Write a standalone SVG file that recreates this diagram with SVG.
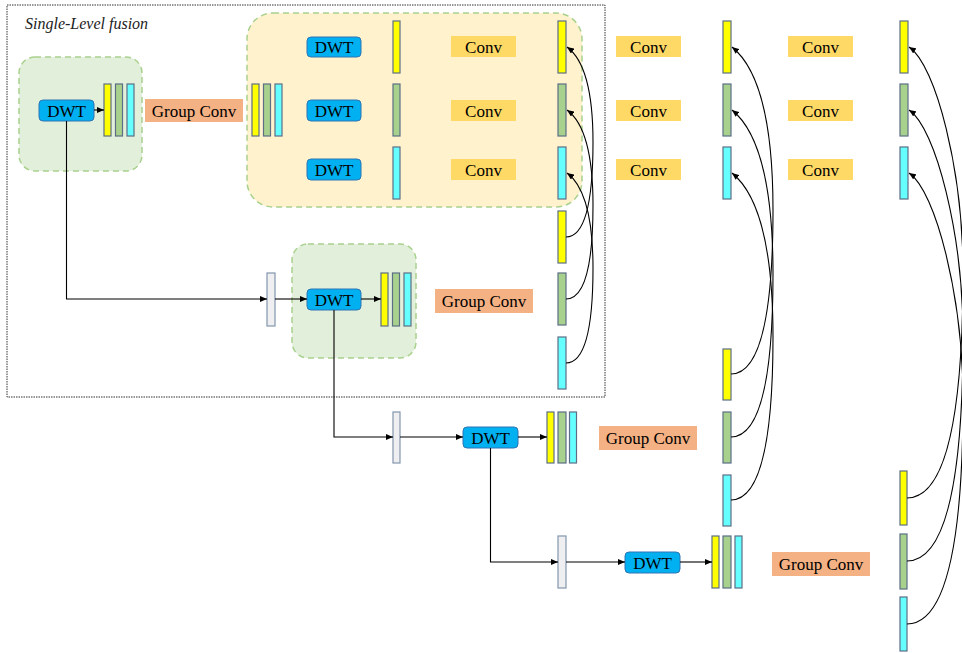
<svg xmlns="http://www.w3.org/2000/svg" width="962" height="653" viewBox="0 0 962 653">
<defs>
<marker id="ah" markerUnits="userSpaceOnUse" markerWidth="7" markerHeight="6" refX="7" refY="3" orient="auto"><path d="M0,0 L7,3 L0,6 z" fill="#000"/></marker>
<style>
.t{font-family:"Liberation Serif","Times New Roman",serif;font-size:17px;fill:#000;text-anchor:middle}
.it{font-family:"Liberation Serif","Times New Roman",serif;font-size:16px;font-style:italic;fill:#222}
.dwt{fill:#00B0F0;stroke:#2E75B6;stroke-width:1}
.conv{fill:#FFD966}
.gc{fill:#F4B183}
.y{fill:#FFFF00;stroke:#5C6E86;stroke-width:1.2}
.g{fill:#A9D18E;stroke:#5C6E86;stroke-width:1.2}
.c{fill:#66FFFF;stroke:#5C6E86;stroke-width:1.2}
.gr{fill:#EFEFF1;stroke:#8496AE;stroke-width:1.2}
.gbox{fill:#E2EFDA;stroke:#A9D18E;stroke-width:1.5;stroke-dasharray:6 4}
.obox{fill:#FFF2CC;stroke:#A9D18E;stroke-width:1.5;stroke-dasharray:6 4}
.ln{fill:none;stroke:#000;stroke-width:1.1}
</style>
</defs>
<g id="frame">
<rect x="7" y="5" width="598" height="392" fill="none" stroke="#333" stroke-width="1" stroke-dasharray="1.5 1"/>
<text class="it" x="25" y="29">Single-Level fusion</text>
</g>
<g id="level1-box"><rect class="gbox" x="19" y="57" width="123" height="114" rx="16"/></g>
<g id="fusion-box"><rect class="obox" x="247" y="13" width="335" height="194" rx="26"/></g>
<g id="level2-box"><rect class="gbox" x="292" y="244" width="124" height="114" rx="16"/></g>

<g id="dwt1"><rect class="dwt" x="39" y="100" width="55" height="21" rx="4"/><text class="t" x="66.5" y="116.5">DWT</text></g>
<g id="bars1"><rect class="y" x="104" y="84" width="7" height="52"/><rect class="g" x="115.5" y="84" width="7" height="52"/><rect class="c" x="127" y="84" width="7" height="52"/></g>
<g id="gconv1"><rect class="gc" x="145" y="99" width="98" height="23"/><text class="t" x="194" y="116.5">Group Conv</text></g>
<g id="bars1b"><rect class="y" x="252" y="84" width="7" height="52"/><rect class="g" x="263.5" y="84" width="7" height="52"/><rect class="c" x="275" y="84" width="7" height="52"/></g>

<g id="dwt-a"><rect class="dwt" x="307" y="37" width="54" height="20" rx="4"/><text class="t" x="334" y="53">DWT</text></g>
<g id="dwt-b"><rect class="dwt" x="307" y="100" width="54" height="21" rx="4"/><text class="t" x="334" y="116.5">DWT</text></g>
<g id="dwt-c"><rect class="dwt" x="307" y="159" width="54" height="21" rx="4"/><text class="t" x="334" y="175.5">DWT</text></g>
<g id="mid-bars"><rect class="y" x="393" y="21" width="7" height="52"/><rect class="g" x="393" y="84" width="7" height="52"/><rect class="c" x="393" y="147" width="7" height="52"/></g>
<g id="conv1"><rect class="conv" x="451" y="36" width="65" height="21"/><text class="t" x="483.5" y="52.5">Conv</text></g>
<g id="conv2"><rect class="conv" x="451" y="100" width="65" height="21"/><text class="t" x="483.5" y="116.5">Conv</text></g>
<g id="conv3"><rect class="conv" x="451" y="159" width="65" height="21"/><text class="t" x="483.5" y="175.5">Conv</text></g>
<g id="out1"><rect class="y" x="558" y="21" width="8" height="52"/><rect class="g" x="558" y="84" width="8" height="52"/><rect class="c" x="558" y="147" width="8" height="52"/></g>
<g id="in1"><rect class="y" x="558" y="211" width="8" height="52"/><rect class="g" x="558" y="273" width="8" height="52"/><rect class="c" x="558" y="337" width="8" height="52"/></g>

<g id="conv4"><rect class="conv" x="616" y="36" width="65" height="21"/><text class="t" x="648.5" y="52.5">Conv</text></g>
<g id="conv5"><rect class="conv" x="616" y="100" width="65" height="21"/><text class="t" x="648.5" y="116.5">Conv</text></g>
<g id="conv6"><rect class="conv" x="616" y="159" width="65" height="21"/><text class="t" x="648.5" y="175.5">Conv</text></g>
<g id="out2"><rect class="y" x="723" y="21" width="8" height="52"/><rect class="g" x="723" y="84" width="8" height="52"/><rect class="c" x="723" y="147" width="8" height="52"/></g>
<g id="in2"><rect class="y" x="723" y="349" width="8" height="51"/><rect class="g" x="723" y="412" width="8" height="51"/><rect class="c" x="723" y="475" width="8" height="51"/></g>

<g id="conv7"><rect class="conv" x="788" y="36" width="65" height="21"/><text class="t" x="820.5" y="52.5">Conv</text></g>
<g id="conv8"><rect class="conv" x="788" y="100" width="65" height="21"/><text class="t" x="820.5" y="116.5">Conv</text></g>
<g id="conv9"><rect class="conv" x="788" y="159" width="65" height="21"/><text class="t" x="820.5" y="175.5">Conv</text></g>
<g id="out3"><rect class="y" x="900" y="21" width="8" height="52"/><rect class="g" x="900" y="84" width="8" height="52"/><rect class="c" x="900" y="147" width="8" height="52"/></g>
<g id="in3"><rect class="y" x="900" y="471" width="7" height="54"/><rect class="g" x="900" y="534" width="7" height="55"/><rect class="c" x="900" y="597" width="7" height="54"/></g>

<g id="gray2"><rect class="gr" x="267" y="273" width="8" height="53"/></g>
<g id="dwt2"><rect class="dwt" x="307" y="289" width="54" height="21" rx="4"/><text class="t" x="334" y="305.5">DWT</text></g>
<g id="bars2"><rect class="y" x="381" y="273" width="7" height="53"/><rect class="g" x="392.5" y="273" width="7" height="53"/><rect class="c" x="404" y="273" width="7" height="53"/></g>
<g id="gconv2"><rect class="gc" x="435" y="289" width="98" height="24"/><text class="t" x="484" y="306.5">Group Conv</text></g>

<g id="gray3"><rect class="gr" x="393" y="412" width="7" height="51"/></g>
<g id="dwt3"><rect class="dwt" x="463" y="427" width="55" height="21" rx="4"/><text class="t" x="490.5" y="443.5">DWT</text></g>
<g id="bars3"><rect class="y" x="547" y="412" width="7" height="51"/><rect class="g" x="558" y="412" width="8" height="51"/><rect class="c" x="569.5" y="412" width="7" height="51"/></g>
<g id="gconv3"><rect class="gc" x="599" y="426" width="98" height="24"/><text class="t" x="648" y="443.5">Group Conv</text></g>

<g id="gray4"><rect class="gr" x="558" y="536" width="8" height="52"/></g>
<g id="dwt4"><rect class="dwt" x="625" y="552" width="55" height="21" rx="4"/><text class="t" x="652.5" y="568.5">DWT</text></g>
<g id="bars4"><rect class="y" x="712" y="536" width="7" height="52"/><rect class="g" x="723" y="536" width="8" height="52"/><rect class="c" x="735" y="536" width="7" height="52"/></g>
<g id="gconv4"><rect class="gc" x="772" y="552" width="98" height="24"/><text class="t" x="821" y="569.5">Group Conv</text></g>

<g id="connectors">
<path class="ln" d="M94,110 H104" marker-end="url(#ah)"/>
<path class="ln" d="M66.5,121 V299 H267" marker-end="url(#ah)"/>
<path class="ln" d="M275,299 H307" marker-end="url(#ah)"/>
<path class="ln" d="M361,299 H381" marker-end="url(#ah)"/>
<path class="ln" d="M334,310 V437 H393" marker-end="url(#ah)"/>
<path class="ln" d="M400,437 H463" marker-end="url(#ah)"/>
<path class="ln" d="M518,437 H547" marker-end="url(#ah)"/>
<path class="ln" d="M490.5,448 V562 H558" marker-end="url(#ah)"/>
<path class="ln" d="M566,562 H625" marker-end="url(#ah)"/>
<path class="ln" d="M680,562 H712" marker-end="url(#ah)"/>

<path class="ln" d="M566,237 Q593,237 593,142 Q593,66 567,47" marker-end="url(#ah)"/>
<path class="ln" d="M566,299 Q593,299 593,205 Q593,129 567,110" marker-end="url(#ah)"/>
<path class="ln" d="M566,363 Q593,363 593,268 Q593,192 567,173" marker-end="url(#ah)"/>

<path class="ln" d="M731,374 Q773,374 773,210 Q773,80 732,47" marker-end="url(#ah)"/>
<path class="ln" d="M731,437 Q773,437 773,274 Q773,143 732,110" marker-end="url(#ah)"/>
<path class="ln" d="M731,500 Q773,500 773,337 Q773,206 732,173" marker-end="url(#ah)"/>

<path class="ln" d="M907,498 Q963,498 963,272 C963,171 936,65 909,47" marker-end="url(#ah)"/>
<path class="ln" d="M907,561 Q963,561 963,336 C963,235 936,128 909,110" marker-end="url(#ah)"/>
<path class="ln" d="M907,624 Q963,624 963,399 C963,298 936,191 909,173" marker-end="url(#ah)"/>
</g>
</svg>
